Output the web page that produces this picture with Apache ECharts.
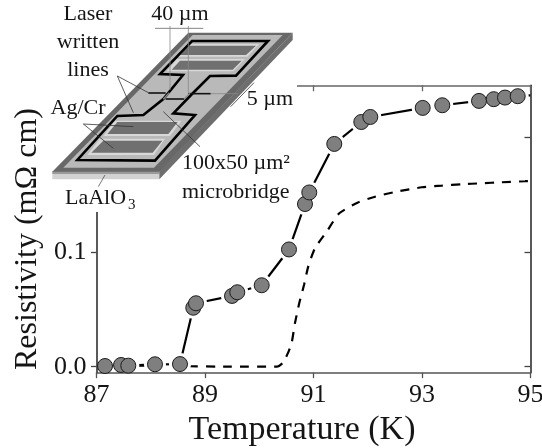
<!DOCTYPE html>
<html><head><meta charset="utf-8">
<style>html,body{margin:0;padding:0;background:#fff}#c{width:542px;height:448px}</style>
<script src="https://cdn.jsdelivr.net/npm/echarts@6/dist/echarts.min.js"></script>
</head><body><div id="c"></div>
<script>
const circleT = [87.157,87.452,87.586,88.078,88.539,88.784,88.834,89.498,89.595,90.045,90.548,90.843,90.922,91.383,91.881,92.047,93.013,93.374,94.051,94.322,94.530,94.764];
const circleR = [0.0006,0.0015,0.0009,0.0021,0.0023,0.0514,0.0553,0.0617,0.0649,0.0710,0.1022,0.1418,0.1519,0.1942,0.2133,0.2177,0.2256,0.2279,0.2317,0.2332,0.2346,0.2358];
const solidEndT = [95];
const solidEndR = [0.2365];
const dashT = [87.765,88.54,89.46,90.327,90.438,90.53,90.598,90.659,90.738,90.825,90.904,91.028,91.243,91.47,91.82,92.135,92.534,92.996,93.364,93.73,94.09,94.47,94.9,95];
const dashR = [0.001,0.0005,0,0,0.0035,0.012,0.021,0.0381,0.0555,0.0713,0.0875,0.1034,0.1177,0.1335,0.1432,0.1482,0.1526,0.1564,0.1578,0.159,0.1599,0.1608,0.1617,0.162];
const xTicks = [87,89,91,93,95];
const yLabelTicks = [0,0.1];
const yTicks = [0,0.1,0.2];
const xTitle = 'Temperature (K)';
const yTitle = 'Resistivity (m\u03A9 cm)';

const zip = (a,b)=>a.map((v,i)=>[v,b[i]]);
const serif = '"Liberation Serif","Times New Roman",serif';
const ink = '#151515';

// inset sketch, written in 3x zoom coordinates
const P = pts => pts.map(([x,y])=>[x/3,y/3]);
const poly = (pts,fill,z=11)=>({type:'polygon',z,silent:true,shape:{points:P(pts)},style:{fill,stroke:null}});
const pline = (pts,stroke,lineWidth,z=13,closed=false)=>({type:closed?'polygon':'polyline',z,silent:true,shape:{points:P(pts)},style:{stroke,lineWidth,fill:null,lineJoin:'miter'}});
const label = (text,x,y,align='center',size=22)=>({type:'text',z:15,silent:true,style:{text,x,y,align,verticalAlign:'middle',font:size+'px '+serif,fill:ink}});

const inset = [
  {type:'rect',z:10,silent:true,shape:{x:45,y:0,width:252,height:212},style:{fill:'#fff'}},
  poly([[157,515],[478,515],[478,538],[157,538]],'#d2d2d2'),
  poly([[157,513],[478,513],[478,522],[157,522]],'#9a9a9a'),
  poly([[878,98],[878,120],[478,538],[478,513]],'#6e6e6e'),
  poly([[565,98],[878,98],[478,515],[157,515]],'#686868'),
  poly([[578,105],[848,105],[462,503],[190,503]],'#b9b9b9'),
  poly([[560,132],[778,132],[742,170],[526,170]],'#d8d8d8',12),
  poly([[568,137],[768,137],[738,165],[541,165]],'#707070',12),
  poly([[530,177],[735,177],[700,214],[500,214]],'#d8d8d8',12),
  poly([[540,182],[725,182],[698,209],[515,209]],'#707070',12),
  poly([[345,362],[545,362],[510,408],[310,408]],'#d8d8d8',12),
  poly([[352,366],[533,366],[505,402],[322,402]],'#707070',12),
  poly([[300,416],[495,416],[462,465],[262,465]],'#d8d8d8',12),
  poly([[310,422],[487,422],[458,458],[274,458]],'#707070',12),
  pline([[576,123],[804,123],[708,227],[630,228],[579,279],[520,340],[585,345],[465,482],[232,480],[352,348],[430,345],[490,297],[549,225],[480,222]],'#000',2.6,13,true),
  pline([[445,279],[497,279]],'#111',1.6),
  pline([[565,281],[632,281]],'#111',1.6),
  pline([[497,297],[553,297]],'#111',1.6),
  pline([[490,298],[508,278]],'#888',1.4),
  pline([[552,298],[570,280]],'#888',1.4),
  pline([[465,85],[610,85]],'#666',0.8,14),
  pline([[510,78],[510,270]],'#888',0.8,14),
  pline([[565,78],[565,280]],'#888',0.8,14),
  pline([[632,281],[715,281]],'#888',0.8,14),
  pline([[352,228],[445,278]],'#333',0.8,14),
  pline([[352,228],[400,338]],'#333',0.8,14),
  pline([[250,372],[400,380]],'#333',0.8,14),
  pline([[250,372],[340,445]],'#333',0.8,14),
  pline([[490,335],[600,440]],'#333',0.8,14),
  pline([[692,320],[762,248]],'#333',0.8,14),
  pline([[315,525],[295,560]],'#555',0.8,14),
  label('Laser',88,14),
  label('written',88,42),
  label('lines',88,70),
  label('40 \u00B5m',180,14),
  label('Ag/Cr',78,108),
  label('5 \u00B5m',270,99),
  label('100x50 \u00B5m\u00B2',182,163,'left'),
  label('microbridge',182,192,'left'),
  label('LaAlO',65,198,'left'),
  label('3',128,205,'left',15)
];

const chart = echarts.init(document.getElementById('c'),null,{renderer:'canvas'});
const axisLine = c=>({show:true,onZero:false,lineStyle:{color:c,width:1.5}});
chart.setOption({
  animation:false,
  backgroundColor:'#fff',
  grid:{left:96.5,right:11.5,top:85.3,bottom:75.3,containLabel:false,outerBoundsMode:'none'},
  xAxis:[
    {type:'value',min:87,max:95,position:'bottom',z:3,splitLine:{show:false},
     axisLine:axisLine('#555'),
     axisTick:{show:true,customValues:xTicks,length:5.5,inside:false,lineStyle:{color:'#555',width:1.3}},
     axisLabel:{show:true,customValues:xTicks,margin:9,fontFamily:serif,fontSize:26,color:ink,formatter:v=>String(v),hideOverlap:false},
     name:xTitle,nameLocation:'middle',nameGap:39,
     nameTextStyle:{fontFamily:serif,fontSize:34,color:ink,padding:[0,23,0,0]}},
    {type:'value',min:87,max:95,position:'top',z:3,splitLine:{show:false},
     axisLine:axisLine('#666'),
     axisTick:{show:true,customValues:xTicks,length:6,inside:true,lineStyle:{color:'#666',width:1.3}},
     axisLabel:{show:false}}
  ],
  yAxis:[
    {type:'value',min:-0.00523,max:0.2453,position:'left',z:3,splitLine:{show:false},
     axisLine:axisLine('#222'),
     axisTick:{show:true,customValues:yTicks,length:5.5,inside:false,lineStyle:{color:'#444',width:1.3}},
     axisLabel:{show:true,customValues:yLabelTicks,margin:10,fontFamily:serif,fontSize:26,color:ink,formatter:v=>v.toFixed(1)},
     name:yTitle,nameLocation:'middle',nameGap:53,nameRotate:90,
     nameTextStyle:{fontFamily:serif,fontSize:32,color:ink,padding:[0,20,0,0]}},
    {type:'value',min:-0.00523,max:0.2453,position:'right',z:3,splitLine:{show:false},
     axisLine:axisLine('#222'),
     axisTick:{show:true,customValues:yTicks,length:6,inside:true,lineStyle:{color:'#444',width:1.3}},
     axisLabel:{show:false}}
  ],
  series:[
    {type:'line',z:1,silent:true,data:zip(circleT.concat(solidEndT),circleR.concat(solidEndR)),showSymbol:false,symbol:'none',lineStyle:{color:'#000',width:2.2},clip:false},
    {type:'scatter',z:2,silent:true,data:zip(circleT,circleR),symbol:'circle',symbolSize:22,itemStyle:{color:'#fff',opacity:1},clip:false},
    {type:'line',z:2,silent:true,data:zip(dashT,dashR),showSymbol:false,symbol:'none',smooth:0.2,lineStyle:{color:'#000',width:2.2,type:[9,8]},clip:false},
    {type:'scatter',z:4,silent:true,data:zip(circleT,circleR),symbol:'circle',symbolSize:15,itemStyle:{color:'#7f7f7f',borderColor:'#1c1c1c',borderWidth:1,opacity:1},clip:false}
  ],
  graphic:{elements:inset}
});
</script></body></html>
